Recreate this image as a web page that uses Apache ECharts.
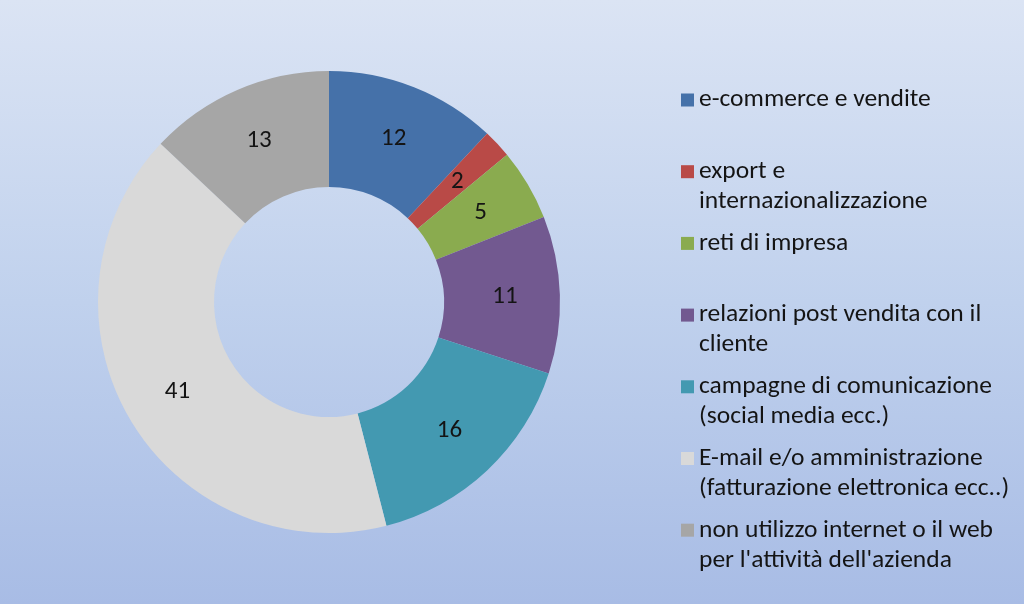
<!DOCTYPE html>
<html>
<head>
<meta charset="utf-8">
<script src="https://cdn.jsdelivr.net/npm/echarts@6/dist/echarts.min.js"></script>
<style>
html,body{margin:0;padding:0;}
#chart{width:1024px;height:604px;}
</style>
</head>
<body>
<div id="chart"></div>
<script>
var categories = [
  "e-commerce e vendite",
  "export e\ninternazionalizzazione",
  "reti di impresa",
  "relazioni post vendita con il\ncliente",
  "campagne di comunicazione\n(social media ecc.)",
  "E-mail e/o amministrazione\n(fatturazione elettronica ecc..)",
  "non utilizzo internet o il web\nper l'attività dell'azienda"
];
var values = [12, 2, 5, 11, 16, 41, 13];
var colors = ["#4571a9", "#b94a47", "#8aab4f", "#725990", "#4399b1", "#d9d9d9", "#a6a6a6"];

var FONT = "Carlito, Calibri, Lato, 'Noto Sans', sans-serif";
var chart = echarts.init(document.getElementById('chart'), null, {renderer: 'canvas'});

// Each legend entry is padded to three text lines so that the first real line
// sits level with the colour square (as in the reference).
var legends = categories.map(function (name, i) {
  return {
    orient: 'vertical',
    left: 681,
    top: 100 + i * 71.7 - 45,
    padding: 0,
    itemWidth: 13,
    itemHeight: 13,
    icon: 'rect',
    selectedMode: false,
    data: [name],
    formatter: function (n) {
      return n.indexOf('\n') >= 0 ? ' \n' + n : ' \n' + n + '\n ';
    },
    textStyle: {
      fontFamily: FONT,
      fontSize: 25.5,
      lineHeight: 30,
      color: '#141414'
    }
  };
});

chart.setOption({
  backgroundColor: {
    type: 'linear', x: 0, y: 0, x2: 0, y2: 1,
    colorStops: [
      {offset: 0, color: '#dbe4f4'},
      {offset: 0.5, color: '#c0d1ed'},
      {offset: 1, color: '#a8bce5'}
    ]
  },
  color: colors,
  legend: legends,
  series: [{
    type: 'pie',
    center: [329, 302],
    radius: [115, 231],
    startAngle: 90,
    clockwise: true,
    avoidLabelOverlap: false,
    silent: true,
    itemStyle: {borderWidth: 0},
    label: {
      show: true,
      position: 'inside',
      formatter: '{c}',
      fontFamily: FONT,
      fontSize: 25,
      color: '#141414'
    },
    labelLine: {show: false},
    data: categories.map(function (c, i) { return {name: c, value: values[i]}; })
  }]
});
</script>
</body>
</html>
